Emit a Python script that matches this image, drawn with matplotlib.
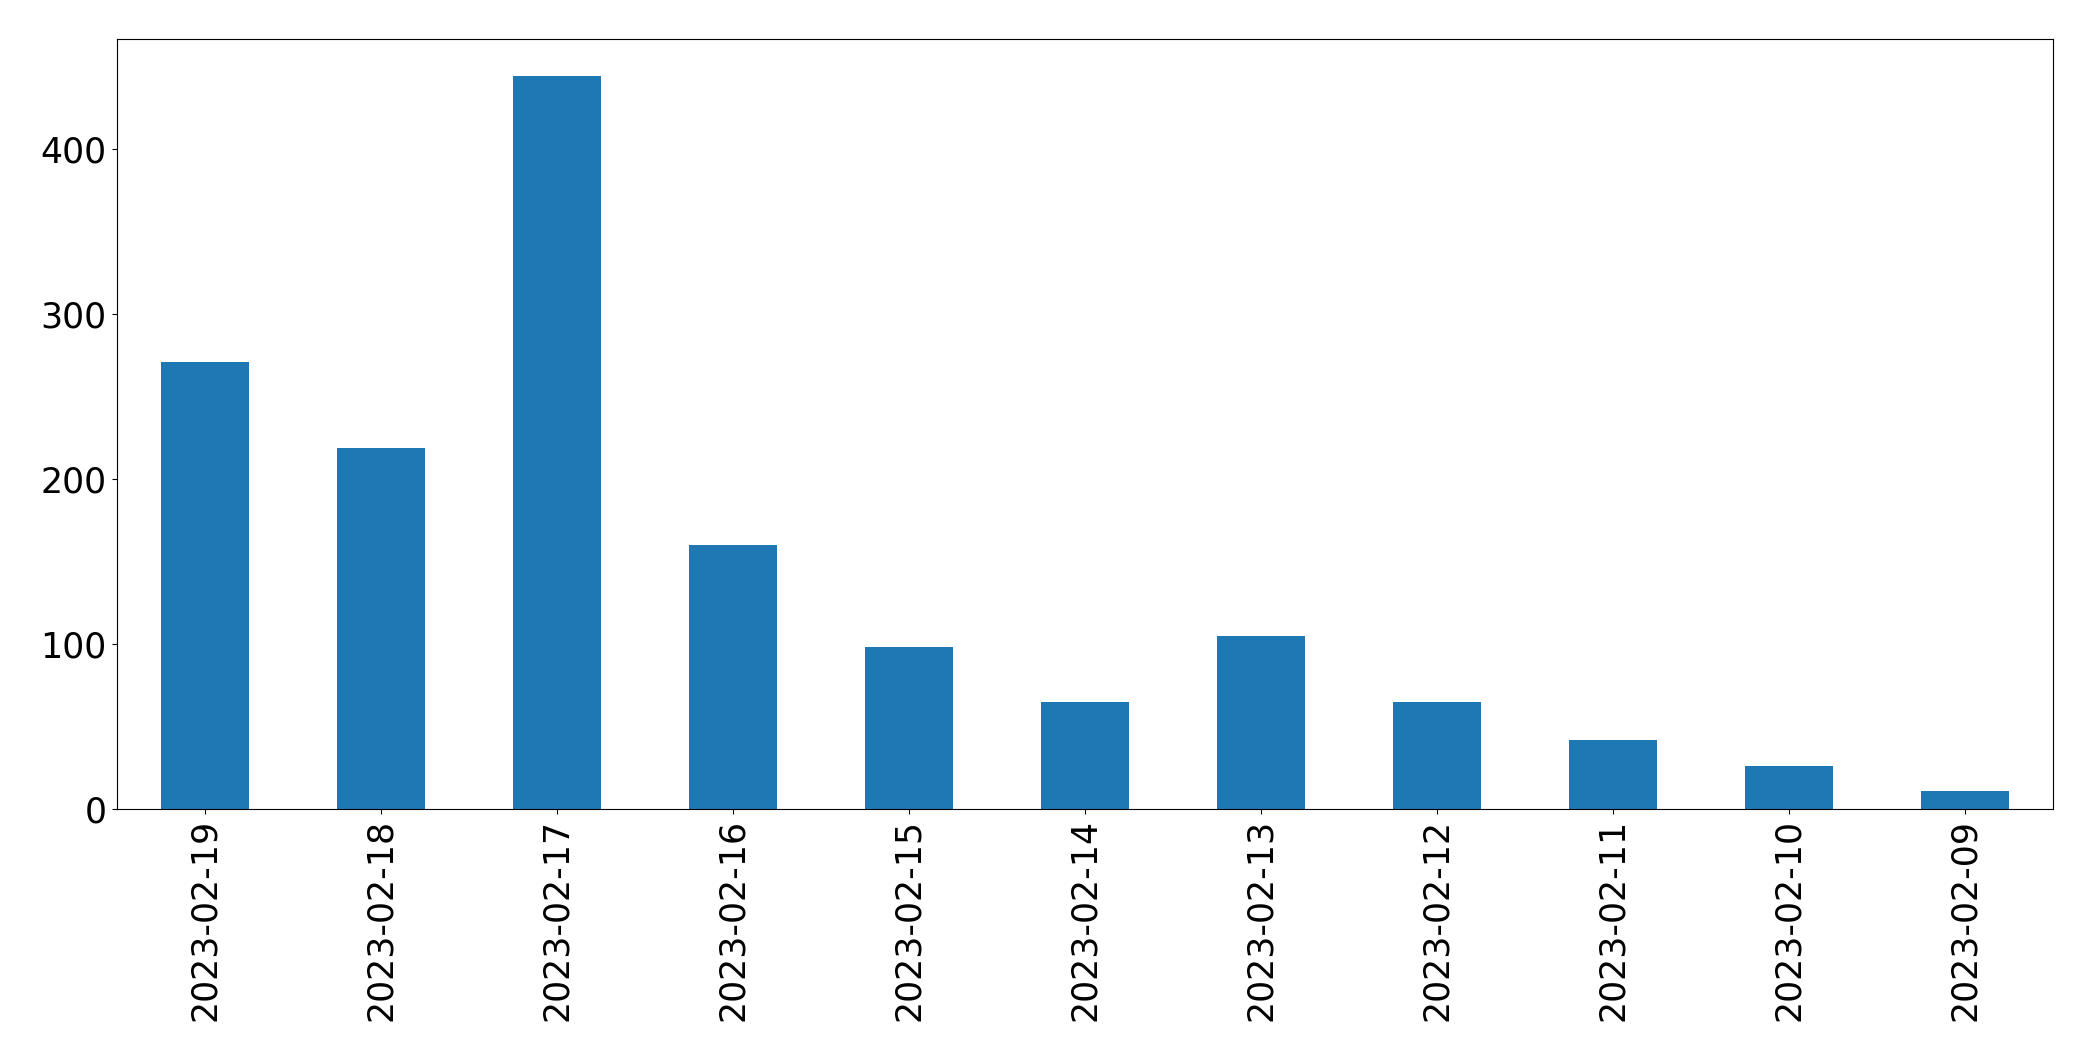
import matplotlib
matplotlib.use("Agg")
import matplotlib.pyplot as plt

dates = ["2023-02-19", "2023-02-18", "2023-02-17", "2023-02-16", "2023-02-15",
         "2023-02-14", "2023-02-13", "2023-02-12", "2023-02-11", "2023-02-10",
         "2023-02-09"]
counts = [271, 219, 444, 160, 98, 65, 105, 65, 42, 26, 11]

fig = plt.figure(figsize=(20.93, 10.61), dpi=100)
ax = fig.add_axes([0.0557, 0.2372, 0.9807 - 0.0557, 0.9631 - 0.2372])
x = list(range(len(dates)))
ax.bar(x, counts, width=0.5, color="#1f77b4")
ax.set_xlim(-0.5, len(dates) - 0.5)
ax.set_xticks(x)
ax.set_xticklabels(dates, rotation=90, fontsize=25)
ax.tick_params(axis="y", labelsize=25)
ax.set_yticks([0, 100, 200, 300, 400])
fig.savefig("out.png", dpi=100)
